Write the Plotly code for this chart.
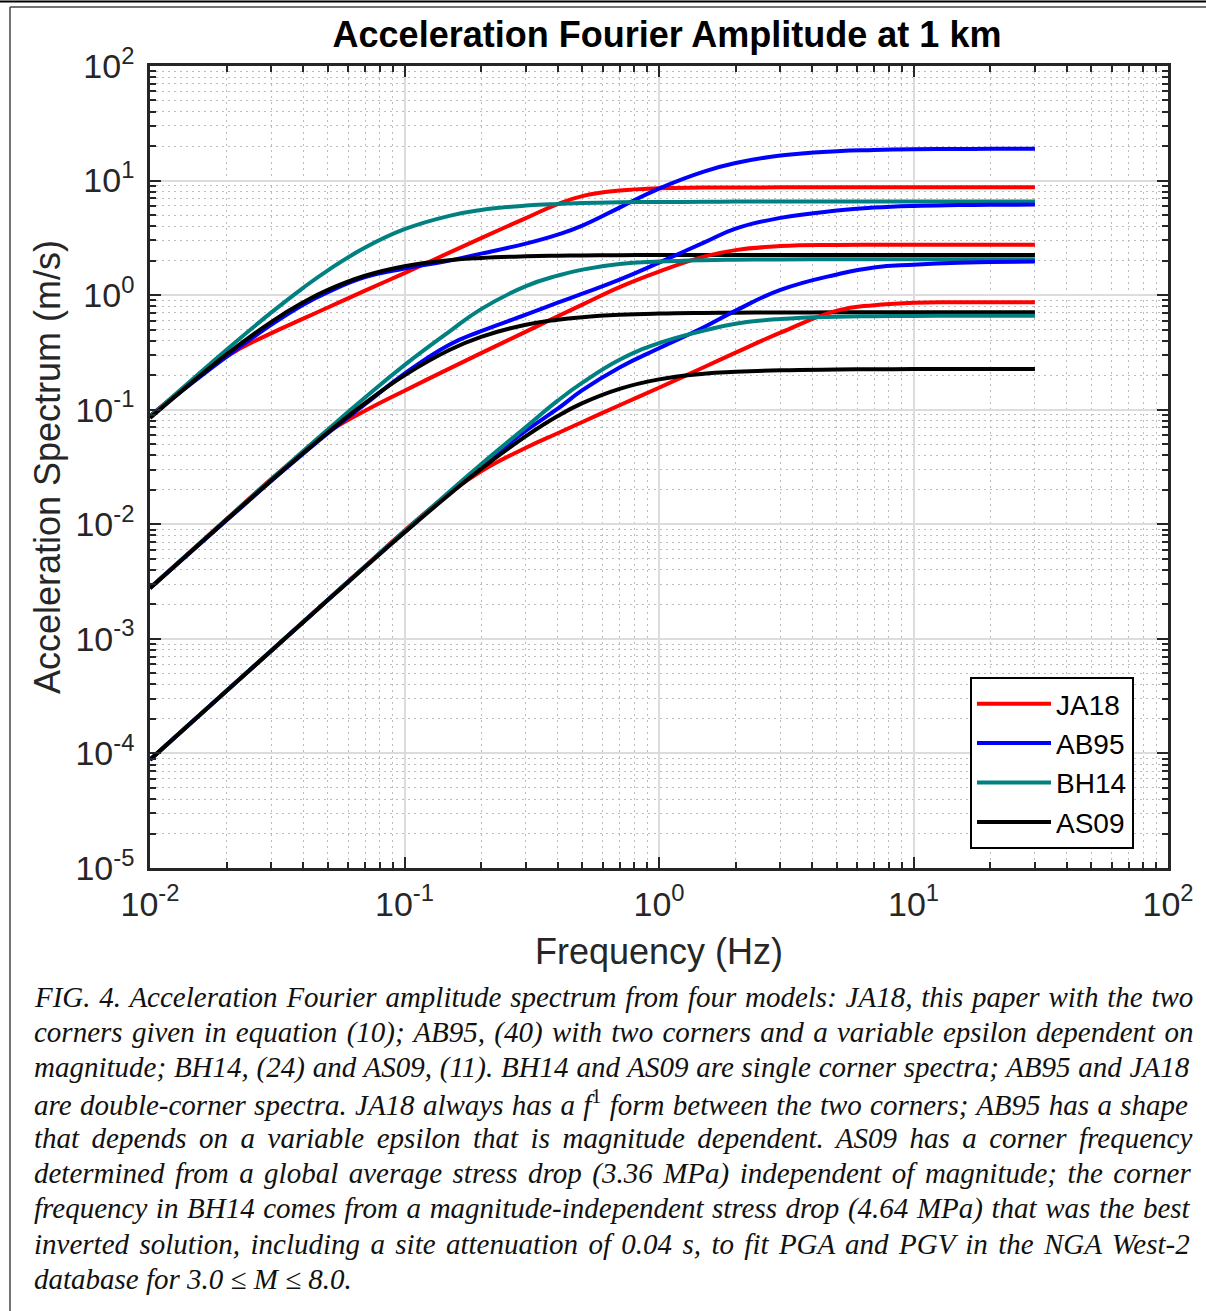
import plotly.graph_objects as go

# ---------------- data ----------------
FREQ_HZ = [0.01, 0.02, 0.03, 0.04, 0.05, 0.07, 0.1, 0.15, 0.2, 0.3, 0.4, 0.5,
           0.7, 1, 1.5, 2, 3, 5, 7, 10, 15, 20, 30]

# large event
JA18_LARGE = [0.0879, 0.2903, 0.4658, 0.6234, 0.7807, 1.095, 1.557, 2.350, 3.147, 4.705, 6.235, 7.322,
              8.178, 8.583, 8.688, 8.714, 8.723, 8.723, 8.723, 8.723, 8.723, 8.723, 8.723]
AB95_LARGE = [0.0879, 0.2903, 0.5524, 0.8259, 1.062, 1.436, 1.704, 2.001, 2.304, 2.818, 3.376, 4.046,
              5.810, 8.514, 11.98, 14.22, 16.54, 18.03, 18.47, 18.77, 18.88, 18.92, 18.92]
BH14_LARGE = [0.0868, 0.334, 0.707, 1.159, 1.647, 2.60, 3.76, 4.92, 5.53, 6.05, 6.26, 6.36,
              6.46, 6.50, 6.53, 6.55, 6.555, 6.56, 6.56, 6.56, 6.56, 6.56, 6.56]
AS09_LARGE = [0.0847, 0.3043, 0.5854, 0.8652, 1.111, 1.476, 1.788, 2.016, 2.110, 2.182, 2.209, 2.222,
              2.233, 2.239, 2.242, 2.243, 2.244, 2.244, 2.244, 2.244, 2.244, 2.244, 2.244]

# medium event
JA18_MEDIUM = [0.002778, 0.01110, 0.02497, 0.04272, 0.06361, 0.0980, 0.1466, 0.2283, 0.3120, 0.4800,
               0.6544, 0.8259, 1.175, 1.604, 2.169, 2.472, 2.680, 2.745, 2.755, 2.758, 2.76, 2.76, 2.76]
AB95_MEDIUM = [0.002778, 0.01083, 0.02398, 0.04127, 0.06234, 0.1117, 0.2063, 0.3695, 0.4850, 0.6756,
               0.8602, 1.031, 1.366, 1.922, 2.874, 3.808, 4.724, 5.470, 5.810, 6.012, 6.110, 6.147, 6.172]
BH14_MEDIUM = [0.00278, 0.01106, 0.02472, 0.04354, 0.06723, 0.1278, 0.245, 0.480, 0.755, 1.198,
               1.480, 1.670, 1.866, 1.962, 2.021, 2.040, 2.052, 2.058, 2.060, 2.061, 2.062, 2.062, 2.062]
AS09_MEDIUM = [0.002769, 0.01095, 0.02417, 0.04185, 0.06329, 0.1142, 0.1996, 0.3321, 0.4326, 0.5519,
               0.6108, 0.6426, 0.6729, 0.6905, 0.7001, 0.7036, 0.7061, 0.7074, 0.7077, 0.7079, 0.708,
               0.708, 0.708]

# small event
JA18_SMALL = [8.8e-5, 3.52e-4, 7.92e-4, 1.408e-3, 2.2e-3, 4.31e-3, 8.79e-3, 0.01866, 0.02904,
              0.04658, 0.06234, 0.07807, 0.1095, 0.1556, 0.2350, 0.3147, 0.4706, 0.7323, 0.8177,
              0.8583, 0.865, 0.865, 0.865]
AB95_SMALL = [8.8e-5, 3.52e-4, 7.91e-4, 1.404e-3, 2.19e-3, 4.27e-3, 8.6e-3, 0.0188, 0.0325, 0.0656,
              0.102, 0.148, 0.234, 0.344, 0.525, 0.732, 1.110, 1.515, 1.745, 1.846, 1.922, 1.942, 1.962]
BH14_SMALL = [8.8e-5, 3.52e-4, 7.91e-4, 1.405e-3, 2.193e-3, 4.284e-3, 8.68e-3, 0.01923, 0.03342,
              0.0707, 0.1199, 0.1721, 0.2733, 0.3808, 0.4897, 0.5637, 0.6196, 0.649, 0.6553, 0.659,
              0.661, 0.662, 0.662]
AS09_SMALL = [8.797e-5, 3.515e-4, 7.892e-4, 1.399e-3, 2.179e-3, 4.232e-3, 8.471e-3, 0.01821, 0.03047,
              0.0587, 0.088, 0.114, 0.152, 0.184, 0.206, 0.214, 0.221, 0.2244, 0.2255, 0.2262, 0.2265,
              0.2266, 0.2267]

MODELS = ["JA18", "AB95", "BH14", "AS09"]
SERIES = {
    "JA18": [JA18_LARGE, JA18_MEDIUM, JA18_SMALL],
    "AB95": [AB95_LARGE, AB95_MEDIUM, AB95_SMALL],
    "BH14": [BH14_LARGE, BH14_MEDIUM, BH14_SMALL],
    "AS09": [AS09_LARGE, AS09_MEDIUM, AS09_SMALL],
}

X_TICK_VALS = [0.01, 0.1, 1, 10, 100]
X_TICK_TEXT = ["10<sup>-2</sup>", "10<sup>-1</sup>", "10<sup>0</sup>", "10<sup>1</sup>", "10<sup>2</sup>"]
Y_TICK_VALS = [1e-5, 1e-4, 1e-3, 1e-2, 1e-1, 1, 10, 100]
Y_TICK_TEXT = ["10<sup>-5</sup>", "10<sup>-4</sup>", "10<sup>-3</sup>", "10<sup>-2</sup>",
               "10<sup>-1</sup>", "10<sup>0</sup>", "10<sup>1</sup>", "10<sup>2</sup>"]
MINOR_DIGITS = [2, 3, 4, 5, 6, 7, 8, 9]
X_DECADES = [-2, -1, 0, 1]
Y_DECADES = [-5, -4, -3, -2, -1, 0, 1]

TITLE = "Acceleration Fourier Amplitude at 1 km"
X_TITLE = "Frequency (Hz)"
Y_TITLE = "Acceleration Spectrum (m/s)"

CAPTION_LINES = [
    "FIG. 4. Acceleration Fourier amplitude spectrum from four models: JA18, this paper with the two",
    "corners given in equation (10); AB95, (40) with two corners and a variable epsilon dependent on",
    "magnitude; BH14, (24) and AS09, (11). BH14 and AS09 are single corner spectra; AB95 and JA18",
    "are double-corner spectra. JA18 always has a f<span style=\"font-style:normal\"><sup>1</sup></span>"
    " form between the two corners; AB95 has a shape",
    "that depends on a variable epsilon that is magnitude dependent. AS09 has a corner frequency",
    "determined from a global average stress drop (3.36 MPa) independent of magnitude; the corner",
    "frequency in BH14 comes from a magnitude-independent stress drop (4.64 MPa) that was the best",
    "inverted solution, including a site attenuation of 0.04 s, to fit PGA and PGV in the NGA West-2",
    "database for 3.0 \u2264 M \u2264 8.0.",
]

# ---------------- styling ----------------
COLORS = {"JA18": "#ff0000", "AB95": "#0000ff", "BH14": "#008080", "AS09": "#000000"}
W, H = 1206, 1311
ML, MR, MT, MB = 150, 38, 66, 443
PW, PH = W - ML - MR, H - MT - MB
SANS = "Liberation Sans, Arial, Helvetica, sans-serif"


def px_x(px):
    return (px - ML) / PW


def px_y(py):
    return (H - MB - py) / PH


minor_x = [d * 10.0 ** e for e in X_DECADES for d in MINOR_DIGITS]
minor_y = [d * 10.0 ** e for e in Y_DECADES for d in MINOR_DIGITS]

fig = go.Figure()
for g in range(3):
    for m in MODELS:
        fig.add_trace(go.Scatter(
            x=FREQ_HZ, y=SERIES[m][g], mode="lines", name=m, legendgroup=m,
            showlegend=(g == 0),
            line=dict(color=COLORS[m], width=4, shape="spline", smoothing=1.3),
        ))


def axis_style(minor_vals):
    return dict(
        type="log", showline=True, linecolor="#262626", linewidth=2.5, mirror="allticks",
        ticks="inside", ticklen=11, tickwidth=2, tickcolor="#262626",
        showgrid=True, gridcolor="#dcdcdc", gridwidth=2, zeroline=False,
        tickfont=dict(family=SANS, size=34, color="#262626"),
        minor=dict(tickmode="array", tickvals=minor_vals, ticks="inside", ticklen=6,
                   tickwidth=1.5, tickcolor="#262626",
                   showgrid=True, gridcolor="#bdbdbd", gridwidth=1, griddash="2px,4px"),
    )


fig.update_xaxes(range=[-2, 2], tickmode="array", tickvals=X_TICK_VALS, ticktext=X_TICK_TEXT,
                 ticklabelstandoff=4,
                 title=dict(text=X_TITLE, standoff=18, font=dict(family=SANS, size=36, color="#262626")),
                 **axis_style(minor_x))
fig.update_yaxes(range=[-5, 2], tickmode="array", tickvals=Y_TICK_VALS, ticktext=Y_TICK_TEXT,
                 ticklabelstandoff=6,
                 title=dict(text=Y_TITLE, standoff=4, font=dict(family=SANS, size=36, color="#262626")),
                 **axis_style(minor_y))

# Times-italic advance widths (per 1000 em) used to justify caption lines
TI = {" ": 250, ".": 250, ",": 250, ";": 333, ":": 333, "(": 333, ")": 333, "-": 333,
      "\u2264": 549}
TI.update({c: 500 for c in "0123456789"})
TI.update(dict(zip("ABCDEFGHIJKLMNOPQRSTUVWXYZ",
                   [611, 611, 667, 722, 611, 611, 722, 722, 333, 444, 667, 556, 833, 667, 722, 611,
                    722, 611, 500, 556, 722, 611, 833, 611, 556, 556])))
TI.update(dict(zip("abcdefghijklmnopqrstuvwxyz",
                   [500, 500, 444, 500, 444, 278, 500, 500, 278, 278, 444, 278, 722, 500, 500, 500,
                    500, 389, 389, 278, 500, 444, 667, 444, 444, 389])))
CAP_FS = 29
CAP_LEFT, CAP_RIGHT, CAP_Y0, CAP_DY = 32, 1192, 997, 35.25


def strip_tags(s):
    out, inside = [], False
    for c in s:
        if c == "<":
            inside = True
        elif c == ">":
            inside = False
        elif not inside:
            out.append(c)
    return "".join(out)


annotations = []
for i, line in enumerate(CAPTION_LINES):
    plain = strip_tags(line)
    width = sum(TI.get(c, 500) for c in plain) * CAP_FS / 1000.0
    text = line
    if i < len(CAPTION_LINES) - 1:
        nsp = plain.count(" ")
        ws = (CAP_RIGHT - CAP_LEFT - width) / nsp
        text = '<span style="word-spacing:%.2fpx">%s</span>' % (ws, line)
    annotations.append(dict(
        text=text, xref="paper", yref="paper", x=px_x(CAP_LEFT), y=px_y(CAP_Y0 + i * CAP_DY),
        xanchor="left", yanchor="middle", showarrow=False, align="left",
        font=dict(family="Liberation Serif, Times New Roman, serif", size=CAP_FS, color="#111111",
                  style="italic"),
    ))

shapes = [
    dict(type="line", xref="paper", yref="paper", x0=px_x(0), x1=px_x(W), y0=px_y(1.5), y1=px_y(1.5),
         line=dict(color="#000000", width=2)),
    dict(type="line", xref="paper", yref="paper", x0=px_x(10), x1=px_x(W), y0=px_y(7), y1=px_y(7),
         line=dict(color="#444444", width=1.5)),
    dict(type="line", xref="paper", yref="paper", x0=px_x(10), x1=px_x(10), y0=px_y(7), y1=px_y(H),
         line=dict(color="#444444", width=1.5)),
]

fig.update_layout(
    width=W, height=H, autosize=False,
    margin=dict(l=ML, r=MR, t=MT, b=MB, pad=0),
    paper_bgcolor="white", plot_bgcolor="white",
    title=dict(text="<b>%s</b>" % TITLE, xref="container", yref="container",
               x=667 / W, y=1 - 34 / H, xanchor="center", yanchor="middle",
               font=dict(family=SANS, size=36, color="#000000")),
    legend=dict(x=px_x(970), y=px_y(677), xanchor="left", yanchor="top",
                bgcolor="white", bordercolor="#000000", borderwidth=2,
                font=dict(family=SANS, size=28, color="#000000"),
                itemwidth=74, traceorder="normal"),
    annotations=annotations,
    shapes=shapes,
    showlegend=True,
)

fig.write_html("out.html")
